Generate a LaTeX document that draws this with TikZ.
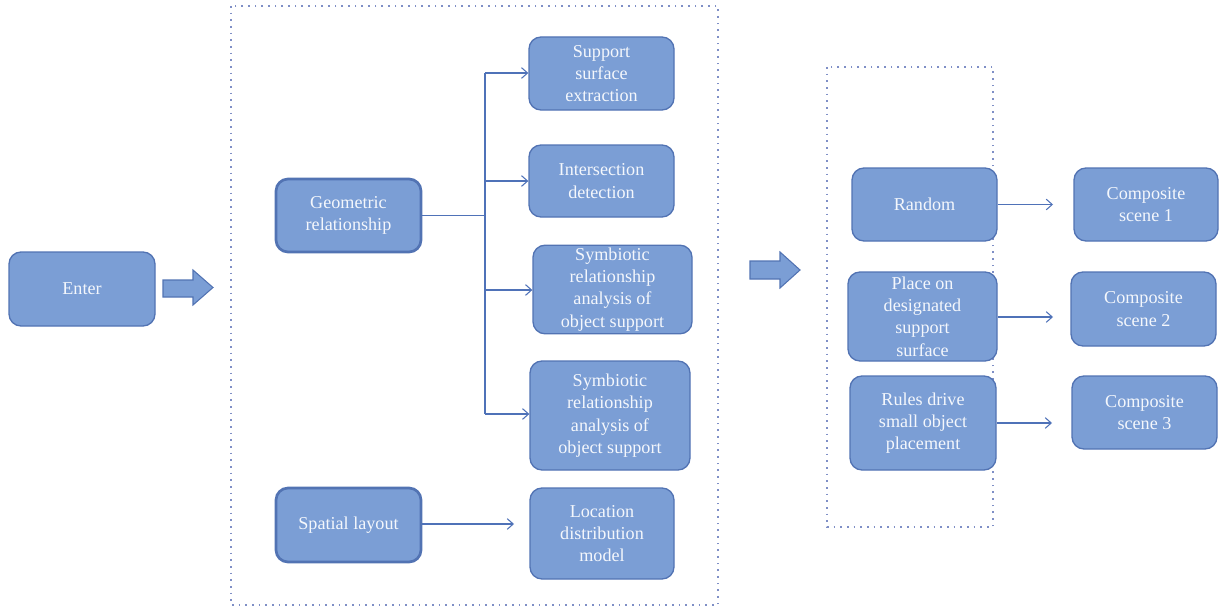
\documentclass[tikz,border=0pt]{standalone}
\usepackage{fontspec}
\setmainfont{Liberation Serif}
\usetikzlibrary{arrows.meta}
\definecolor{boxfill}{HTML}{7B9ED5}
\definecolor{boxline}{HTML}{5273B3}
\definecolor{conline}{HTML}{4F72B8}
\definecolor{frameline}{HTML}{7F8FC6}
\definecolor{txt}{HTML}{F4F7FC}
\tikzset{
  box/.style={draw=boxline, line width=1pt, fill=boxfill, rounded corners=9pt,
    text=txt, align=center, inner sep=2pt,
    font=\fontsize{13.6}{16.7}\selectfont},
  boldbox/.style={box, line width=2pt},
  conn/.style={draw=conline, line width=0.9pt, -{Straight Barb[length=4.5pt,width=8pt,line width=0.8pt]}},
  plainconn/.style={draw=conline, line width=0.9pt},
  frame/.style={draw=frameline, line width=1.2pt, dash pattern=on 1.2pt off 3.8pt},
  blockarrow/.style={fill=boxfill, draw=boxline, line width=0.8pt}
}
\begin{document}
\begin{tikzpicture}[x=0.75pt, y=-0.75pt]
\useasboundingbox (0,0) rectangle (1219,610);
% frames
\draw[frame] (231,6) rectangle (718,605);
\draw[frame] (827,67) rectangle (993,527);
% nodes
\node[box, minimum width=109.5pt, minimum height=55.5pt] (enter) at (82,289) {Enter};
\node[boldbox, minimum width=108.75pt, minimum height=54.75pt] (geo) at (348.5,215.5) {Geometric\\relationship};
\node[box, minimum width=108.75pt, minimum height=54.75pt] (sup) at (601.5,73.5) {Support\\surface\\extraction};
\node[box, minimum width=108.75pt, minimum height=54pt] (inter) at (601.5,181) {Intersection\\detection};
\node[box, minimum width=119.25pt, minimum height=65.25pt] (sym1) at (612.5,289.5) {Symbiotic\\relationship\\analysis of\\object support};
\node[box, minimum width=120pt, minimum height=81.75pt] (sym2) at (610,415.5) {Symbiotic\\relationship\\analysis of\\object support};
\node[boldbox, minimum width=108.75pt, minimum height=55.5pt] (spat) at (348.5,525) {Spatial layout};
\node[box, minimum width=108pt, minimum height=68.25pt] (loc) at (602,533.5) {Location\\distribution\\model};
\node[box, minimum width=108.75pt, minimum height=54.75pt] (rand) at (924.5,204.5) {Random};
\node[box, minimum width=111.75pt, minimum height=66.75pt] (place) at (922.5,316.5) {Place on\\designated\\support\\surface};
\node[box, minimum width=109.5pt, minimum height=70.5pt] (rules) at (923,423) {Rules drive\\small object\\placement};
\node[box, minimum width=108pt, minimum height=54.75pt] (cs1) at (1146,204.5) {Composite\\scene 1};
\node[box, minimum width=108.75pt, minimum height=55.5pt] (cs2) at (1143.5,309) {Composite\\scene 2};
\node[box, minimum width=108.75pt, minimum height=54.75pt] (cs3) at (1144.5,412.5) {Composite\\scene 3};
% block arrows
\draw[blockarrow] (163,280) -- (193,280) -- (193,270) -- (213,287.5) -- (193,305) -- (193,297) -- (163,297) -- cycle;
\draw[blockarrow] (750,261) -- (780,261) -- (780,252) -- (800,270) -- (780,288) -- (780,279) -- (750,279) -- cycle;
% tree connectors
\coordinate (j) at (485,215.5);
\coordinate (jt) at (485,73);
\coordinate (jb) at (485,414);
\draw[plainconn] (geo.east) -- (j);
\draw[plainconn] (jt) -- (jb);
\draw[conn] (jt) -- (sup.west |- jt);
\draw[conn] (485,181) -- (inter.west |- 0,181);
\draw[conn] (485,290) -- (sym1.west |- 0,290);
\draw[conn] (jb) -- (sym2.west |- jb);
\coordinate (le) at (514,524);
\draw[conn] (spat.east |- le) -- (le);
% right connectors
\coordinate (r1) at (1053,204.5);
\coordinate (r2) at (1053,317);
\coordinate (r3) at (1052,423);
\draw[conn] (rand.east) -- (r1);
\draw[conn] (place.east |- r2) -- (r2);
\draw[conn] (rules.east) -- (r3);
\end{tikzpicture}
\end{document}
